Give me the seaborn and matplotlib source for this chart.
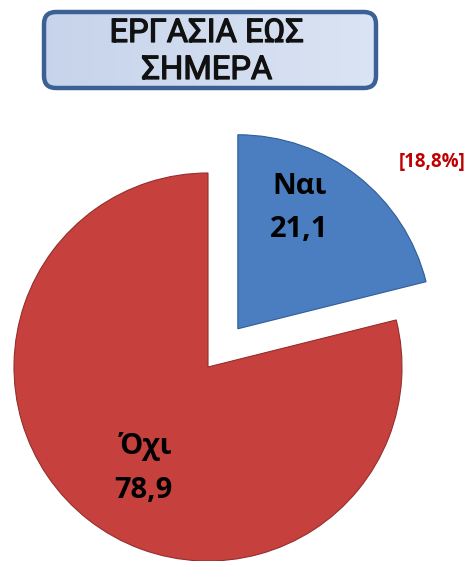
import numpy as np
import matplotlib
matplotlib.use("Agg")
import matplotlib.pyplot as plt
from matplotlib.patches import FancyBboxPatch
import matplotlib.patheffects as pe
import seaborn as sns

sns.set_style("white")
plt.rcParams['font.family'] = ['Open Sans', 'DejaVu Sans']

# Data
categories = ["Ναι", "Όχι"]
values = [21.1, 78.9]
value_labels = ["21,1", "78,9"]
colors = ["#4A7EC0", "#C6403E"]
explode = [0.25, 0.0]
title_lines = ["ΕΡΓΑΣΙΑ ΕΩΣ", "ΣΗΜΕΡΑ"]
note = "[18,8%]"

W, H = 471, 561
fig = plt.figure(figsize=(W / 100, H / 100), dpi=100)

# pie axes: center at pixel (208, 367), radius 194 px
cx, cy, R = 208, 367, 194
ax = fig.add_axes([0, 0, 1, 1])
wedges, _ = ax.pie(values, colors=colors, explode=explode, startangle=90,
                   counterclock=False, radius=1.0,
                   wedgeprops=dict(linewidth=0.8))
wedges[0].set_edgecolor("#2f5d95")
wedges[1].set_edgecolor("#932f2d")
ax.set_xlim(-cx / R, (W - cx) / R)
ax.set_ylim(-(H - cy) / R, cy / R)
ax.set_aspect("auto")
ax.axis("off")

# overlay axes in pixel coordinates
ov = fig.add_axes([0, 0, 1, 1], zorder=5)
ov.set_xlim(0, W)
ov.set_ylim(H, 0)
ov.axis("off")
ov.patch.set_alpha(0)

# title box with gradient
x0, y0, bw, bh = 44, 12, 332, 76
box = FancyBboxPatch((x0, y0), bw, bh, boxstyle="round,pad=0,rounding_size=12",
                     facecolor="none", edgecolor="#3B6096", linewidth=3.2, zorder=3)
ov.add_patch(box)
c1 = np.array([0.78, 0.83, 0.92])
c2 = np.array([0.89, 0.92, 0.97])
img = np.zeros((2, 256, 3))
for i, g in enumerate(np.linspace(0, 1, 256)):
    img[:, i, :] = c1 * (1 - 0.7 * g) + c2 * (0.7 * g)
im = ov.imshow(img, extent=(x0, x0 + bw, y0 + bh, y0), aspect="auto", zorder=2)
im.set_clip_path(box)

title_font = ['Roboto', 'DejaVu Sans']
thick = [pe.withStroke(linewidth=0.9, foreground="#111111")]
ov.text(207, 33, title_lines[0], ha="center", va="center", fontsize=23.5,
        family=title_font, color="#111111", zorder=4, path_effects=thick)
ov.text(207, 70, title_lines[1], ha="center", va="center", fontsize=23.5,
        family=title_font, color="#111111", zorder=4, path_effects=thick)

# slice labels
ov.text(300, 186, categories[0], ha="center", va="center", fontsize=21,
        fontweight="bold", color="black")
ov.text(299, 229, value_labels[0], ha="center", va="center", fontsize=21,
        fontweight="bold", color="black")
ov.text(146, 446, categories[1], ha="center", va="center", fontsize=21,
        fontweight="bold", color="black")
ov.text(143, 490, value_labels[1], ha="center", va="center", fontsize=21,
        fontweight="bold", color="black")
ov.text(432, 162, note, ha="center", va="center", fontsize=13.5,
        fontweight="bold", color="#C00000")

fig.savefig("out.png", dpi=100)
